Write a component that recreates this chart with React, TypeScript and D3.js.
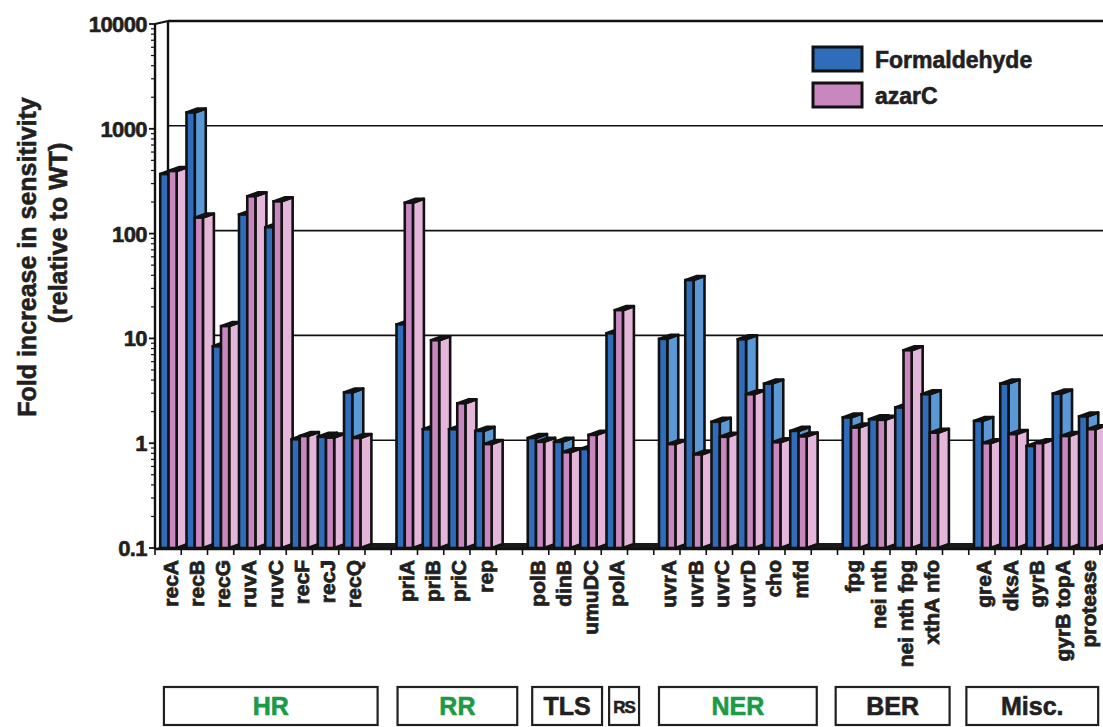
import React from "react";
import * as d3 from "d3";

const categories = [
  "recA", "recB", "recG", "ruvA", "ruvC", "recF", "recJ", "recQ", "",
  "priA", "priB", "priC", "rep", "",
  "polB", "dinB", "umuDC", "polA", "",
  "uvrA", "uvrB", "uvrC", "uvrD", "cho", "mfd", "",
  "fpg", "nei nth", "nei nth fpg", "xthA nfo", "",
  "greA", "dksA", "gyrB", "gyrB topA", "protease",
];

const formaldehyde = [
  370, 1430, 8.4, 152, 115, 1.09, 1.15, 3.05, null,
  13.6, 1.36, 1.36, 1.31, null,
  1.12, 1.03, 0.88, 11.2, null,
  9.9, 36, 1.6, 9.8, 3.7, 1.31, null,
  1.76, 1.69, 2.19, 2.93, null,
  1.63, 3.7, 0.94, 2.97, 1.8,
];

const azarC = [
  395, 142, 13.1, 227, 203, 1.17, 1.13, 1.12, null,
  197, 9.6, 2.4, 0.98, null,
  1.03, 0.82, 1.2, 18.6, null,
  0.98, 0.78, 1.15, 2.93, 1.02, 1.16, null,
  1.41, 1.67, 7.7, 1.26, null,
  1.0, 1.22, 1.0, 1.17, 1.36,
];

const yTicks = [0.1, 1, 10, 100, 1000, 10000];
const yTickLabels = ["0.1", "1", "10", "100", "1000", "10000"];

const groupNames = ["HR", "RR", "TLS", "RS", "NER", "BER", "Misc."];
const groupGreen = [true, true, false, false, true, false, false];
// box spans in slot units (layout)
const groupStart = [0.34, 9.24, 14.37, 17.3, 19.2, 25.93, 30.91];
const groupEnd = [8.48, 13.8, 17.03, 18.44, 25.21, 30.27, 35.93];

const seriesNames = ["Formaldehyde", "azarC"];

const W = 1103;
const H = 727;
const FONT = "'Liberation Sans', Arial, Helvetica, sans-serif";
const TXT = "#231f20";
const GREEN = "#1c9a48";

const BLUE = "#2f6dbb";
const BLUE_SIDE = "#5b98d6";
const PINK = "#c888bf";
const PINK_SIDE = "#e3b6da";

export default function App() {
  const axisX = 155;
  const xRight = 1100;
  const y = d3.scaleLog().domain([0.1, 10000]).range([548, 24]);
  const x = d3
    .scaleBand<number>()
    .domain(d3.range(categories.length))
    .range([axisX, xRight])
    .padding(0);
  const bw = x.bandwidth();
  const slotU = (u: number) => axisX + u * bw;

  const wallDx = 13;
  const wallDy = -3;
  const dx = 11;
  const dy = -4;
  const y0 = y(0.1);

  const minor: number[] = [];
  for (let e = -1; e < 4; e++) {
    for (let m = 2; m <= 9; m++) minor.push(m * Math.pow(10, e));
  }

  const SW = 2.6;
  const bar = (x0: number, x1: number, v: number, front: string, side: string, key: string) => {
    const yt = y(v);
    const sidePts = [
      [x1, y0],
      [x1 + dx, y0 + dy],
      [x1 + dx, yt + dy],
      [x1, yt],
    ];
    const topPts = [
      [x0, yt],
      [x1, yt],
      [x1 + dx, yt + dy],
      [x0 + dx, yt + dy],
    ];
    const p = (pts: number[][]) => pts.map((q) => q.join(",")).join(" ");
    return (
      <g key={key}>
        <polygon points={p(sidePts)} fill={side} stroke="#111" strokeWidth={SW} strokeLinejoin="round" />
        <polygon points={p(topPts)} fill="#1a1a1a" stroke="#111" strokeWidth={SW} strokeLinejoin="round" />
        <rect x={x0} y={yt} width={x1 - x0} height={y0 - yt} fill={front} stroke="#111" strokeWidth={SW} />
      </g>
    );
  };

  const heavy = { stroke: TXT, strokeWidth: 0.6, paintOrder: "stroke" } as any;

  return (
    <div style={{ position: "absolute", left: 0, top: 0 }}>
      <svg width={W} height={H} viewBox={`0 0 ${W} ${H}`} style={{ display: "block", background: "#fff" }}>
        {/* back wall gridlines */}
        {yTicks.slice(1, 5).map((t) => (
          <line key={"g" + t} x1={axisX + wallDx} x2={W} y1={y(t) + wallDy} y2={y(t) + wallDy} stroke="#111" strokeWidth={1.6} />
        ))}
        <line x1={axisX + wallDx} x2={W} y1={y(10000) + wallDy} y2={y(10000) + wallDy} stroke="#111" strokeWidth={2.6} />
        <line x1={axisX} y1={y(10000)} x2={axisX + wallDx} y2={y(10000) + wallDy} stroke="#111" strokeWidth={2.2} />
        <line x1={axisX + wallDx} x2={axisX + wallDx} y1={y(10000) + wallDy} y2={y0 + wallDy} stroke="#111" strokeWidth={2.4} />

        {/* floor */}
        <polygon
          points={`${axisX},${y0 + 1} ${W},${y0 + 1} ${W},${y0 + dy - 1} ${axisX + wallDx},${y0 + dy - 1}`}
          fill="#1a1a1a"
        />

        {/* bars */}
        {categories.map((c, i) => {
          const xs = x(i) as number;
          const f = formaldehyde[i];
          const a = azarC[i];
          const bx0 = xs + 0.2 * bw;
          const bx1 = xs + 0.515 * bw;
          const px1 = xs + 0.825 * bw;
          return (
            <g key={"b" + i}>
              {f != null && bar(bx0, bx1, f, BLUE, BLUE_SIDE, "f" + i)}
              {a != null && bar(bx1, px1, a, PINK, PINK_SIDE, "a" + i)}
            </g>
          );
        })}

        {/* y axis */}
        <line x1={axisX} x2={axisX} y1={y(10000)} y2={y0 + 1} stroke="#111" strokeWidth={2.4} />
        <line x1={axisX} x2={W} y1={y0 + 1} y2={y0 + 1} stroke="#111" strokeWidth={2.4} />
        {yTicks.map((t) => (
          <line key={"mt" + t} x1={axisX - 6} x2={axisX} y1={y(t)} y2={y(t)} stroke="#111" strokeWidth={1.8} />
        ))}
        {minor.map((t) => (
          <line key={"nt" + t} x1={axisX - 4} x2={axisX} y1={y(t)} y2={y(t)} stroke="#111" strokeWidth={1.2} />
        ))}
        {yTicks.map((t, i) => (
          <text
            key={"yl" + t}
            x={147}
            y={y(t)}
            dy="0.36em"
            textAnchor="end"
            fontFamily={FONT}
            fontWeight="bold"
            fontSize={22}
            letterSpacing={-0.6}
            fill={TXT}
            {...heavy}
          >
            {yTickLabels[i]}
          </text>
        ))}

        {/* x ticks */}
        {d3.range(categories.length + 1).map((i) => (
          <line key={"xt" + i} x1={slotU(i)} x2={slotU(i)} y1={y0 + 1} y2={y0 + 7} stroke="#111" strokeWidth={1.6} />
        ))}

        {/* x labels */}
        {categories.map((c, i) =>
          c ? (
            <text
              key={"xl" + i}
              transform={`translate(${(x(i) as number) + bw / 2 + 2},${y0 + 12}) rotate(-90)`}
              dy="0.36em"
              textAnchor="end"
              fontFamily={FONT}
              fontWeight="bold"
              fontSize={21}
              fill={TXT}
              {...heavy}
              strokeWidth={0.8}
            >
              {c}
            </text>
          ) : null
        )}

        {/* y title */}
        <text
          transform="translate(36,257) rotate(-90)"
          textAnchor="middle"
          fontFamily={FONT}
          fontWeight="bold"
          fontSize={25}
          fill={TXT}
          {...heavy}
        >
          Fold increase in sensitivity
        </text>
        <text
          transform="translate(67,233) rotate(-90)"
          textAnchor="middle"
          fontFamily={FONT}
          fontWeight="bold"
          fontSize={25}
          fill={TXT}
          {...heavy}
        >
          (relative to WT)
        </text>

        {/* legend */}
        {seriesNames.map((s, i) => (
          <g key={"lg" + s}>
            <rect x={813} y={47 + i * 36} width={49} height={24} fill={i === 0 ? BLUE : PINK} stroke="#111" strokeWidth={3} />
            <text x={875} y={68 + i * 36} fontFamily={FONT} fontWeight="bold" fontSize={23} fill={TXT} {...heavy}>
              {s}
            </text>
          </g>
        ))}

        {/* group boxes */}
        {groupNames.map((g, i) => {
          const l = slotU(groupStart[i]);
          const r = slotU(groupEnd[i]);
          const small = g === "RS";
          const col = groupGreen[i] ? GREEN : TXT;
          return (
            <g key={"gb" + g}>
              <rect x={l} y={687} width={r - l} height={38} fill="#fff" stroke={TXT} strokeWidth={2.2} />
              <text
                x={(l + r) / 2}
                y={small ? 713 : 715}
                textAnchor="middle"
                fontFamily={FONT}
                fontWeight="bold"
                fontSize={small ? 17 : 25}
                letterSpacing={small ? -1 : 0}
                fill={col}
                stroke={col}
                strokeWidth={0.6}
              >
                {g}
              </text>
            </g>
          );
        })}
      </svg>
    </div>
  );
}
